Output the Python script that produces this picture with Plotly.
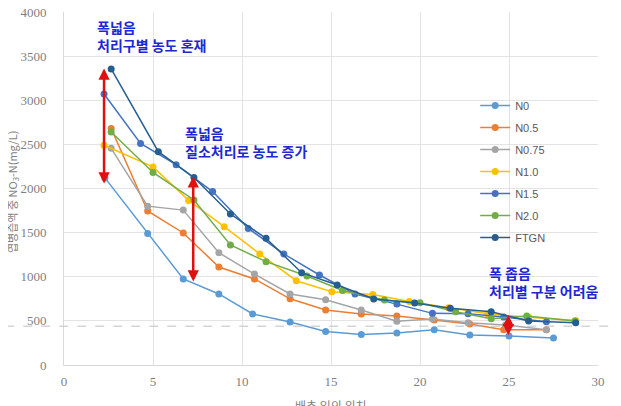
import plotly.graph_objects as go

# ---- data ----
series_names = ["N0", "N0.5", "N0.75", "N1.0", "N1.5", "N2.0", "FTGN"]
series_colors = ["#5B9BD5", "#ED7D31", "#A5A5A5", "#FFC000", "#4472C4", "#70AD47", "#255E91"]

n0_x = [2.3, 4.7, 6.7, 8.7, 10.6, 12.7, 14.7, 16.7, 18.7, 20.8, 22.8, 25.0, 27.5]
n0_y = [2120, 1490, 975, 805, 578, 487, 380, 345, 362, 400, 340, 329, 306]

n05_x = [2.65, 4.7, 6.7, 8.7, 10.7, 12.7, 14.7, 16.7, 18.7, 20.8, 22.8, 24.7, 27.1]
n05_y = [2680, 1745, 1496, 1110, 975, 750, 623, 578, 555, 510, 465, 400, 400]

n075_x = [2.65, 4.7, 6.7, 8.7, 10.7, 12.7, 14.7, 16.7, 18.7, 20.7, 22.7, 24.8, 27.1]
n075_y = [2455, 1800, 1755, 1272, 1030, 805, 740, 623, 495, 521, 478, 453, 400]

n10_x = [2.25, 5.0, 7.0, 9.0, 11.0, 13.05, 15.05, 17.35, 19.4, 21.6, 23.8, 26.1, 28.75]
n10_y = [2490, 2245, 1865, 1567, 1258, 955, 830, 800, 720, 650, 580, 540, 505]

n15_x = [2.25, 4.3, 6.3, 8.35, 10.35, 12.35, 14.35, 16.35, 18.7, 20.7, 22.7, 24.7, 27.1]
n15_y = [3070, 2510, 2270, 1965, 1548, 1258, 1020, 805, 690, 585, 580, 545, 490]

n20_x = [2.65, 5.0, 7.3, 9.35, 11.35, 13.65, 15.65, 18.0, 20.0, 22.0, 24.0, 26.0, 28.7]
n20_y = [2640, 2182, 1870, 1360, 1171, 1008, 845, 737, 706, 604, 525, 555, 500]

ftgn_x = [2.65, 5.3, 7.3, 9.35, 11.35, 13.35, 15.35, 17.4, 19.7, 21.7, 24.0, 26.1, 28.75]
ftgn_y = [3355, 2417, 2125, 1711, 1435, 1046, 907, 748, 702, 642, 604, 498, 480]

series_x = [n0_x, n05_x, n075_x, n10_x, n15_x, n20_x, ftgn_x]
series_y = [n0_y, n05_y, n075_y, n10_y, n15_y, n20_y, ftgn_y]

x_ticks = [0, 5, 10, 15, 20, 25, 30]
y_ticks = [0, 500, 1000, 1500, 2000, 2500, 3000, 3500, 4000]

reference_level = 440

# double-headed range arrows: x, low y, high y
arrow_x = [2.25, 7.26, 24.96]
arrow_low = [2040, 929, 320]
arrow_high = [3360, 2140, 567]

# note texts and their anchor (left, top) in data units
note_texts = ["폭넓음<br>처리구별 농도 혼재",
              "폭넓음<br>질소처리로 농도 증가",
              "폭 좁음<br>처리별 구분 어려움"]
note_x = [1.72, 6.68, 23.75]
note_y = [3965, 2765, 1180]

# ---- figure ----
fig = go.Figure()
for name, color, xs, ys in zip(series_names, series_colors, series_x, series_y):
    fig.add_trace(go.Scatter(
        x=xs, y=ys, name=name, mode="lines+markers", legendgroup=name,
        line=dict(color=color, width=1.5),
        marker=dict(color=color, size=7),
    ))

fig.add_shape(type="line", xref="paper", yref="y",
              x0=-0.11, x1=1.03, y0=reference_level, y1=reference_level,
              line=dict(color="#BFBFBF", width=1, dash="dash"), layer="above")

for ax_, lo, hi in zip(arrow_x, arrow_low, arrow_high):
    fig.add_annotation(x=ax_, y=hi, ax=ax_, ay=lo, xref="x", yref="y",
                       axref="x", ayref="y", text="", showarrow=True,
                       arrowside="end+start", arrowhead=2, arrowsize=0.9,
                       arrowwidth=2.5, arrowcolor="#E01010")

for t, nx, ny in zip(note_texts, note_x, note_y):
    fig.add_annotation(x=nx, y=ny, xref="x", yref="y", text="<b>" + t + "</b>",
                       showarrow=False, xanchor="left", yanchor="top", align="left",
                       font=dict(family="Noto Sans CJK KR", size=14, color="#1E28D2"))

fig.add_annotation(text="엽병즙액 중 NO<sub>3</sub>-N(mg/L)", xref="paper", yref="paper",
                   x=0, y=0.49, xshift=-52, xanchor="center", textangle=-90, showarrow=False,
                   font=dict(family="Noto Sans CJK KR", size=11, color="#7F7F7F"))
fig.add_annotation(text="배추 잎의 위치", xref="paper", yref="paper",
                   x=0.5, y=0, yshift=-30, yanchor="top", showarrow=False,
                   font=dict(family="Noto Sans CJK KR", size=12, color="#7F7F7F"))

fig.update_layout(
    width=621, height=406,
    margin=dict(l=56, r=31, t=4, b=49, autoexpand=False),
    paper_bgcolor="white", plot_bgcolor="white",
    showlegend=True,
    legend=dict(x=0.77, y=0.776, xanchor="left", yanchor="top", tracegroupgap=3,
                font=dict(family="Liberation Sans", size=11, color="#595959"),
                bgcolor="rgba(0,0,0,0)"),
    xaxis=dict(range=[0, 30], tickvals=x_ticks, showgrid=True, gridcolor="#E3E3E3",
               zeroline=False, showline=True, linecolor="#D9D9D9", automargin=False,
               tickfont=dict(family="Liberation Serif", size=13, color="#7F7F7F"),
               ticks="", ticklabelstandoff=4, ticklabeloverflow="allow"),
    yaxis=dict(range=[0, 4000], tickvals=y_ticks, showgrid=True, gridcolor="#E3E3E3",
               zeroline=False, showline=True, linecolor="#D9D9D9", automargin=False,
               tickfont=dict(family="Liberation Serif", size=13, color="#7F7F7F"),
               ticks="", ticklabelstandoff=14, ticklabeloverflow="allow"),
)

fig.write_html("out.html")
